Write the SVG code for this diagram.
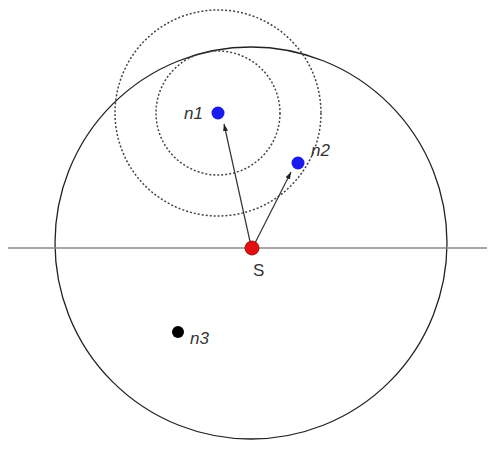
<svg xmlns="http://www.w3.org/2000/svg" width="490" height="455" viewBox="0 0 490 455">
<defs>
<style>
.lbl{font-family:"Liberation Sans",Arial,sans-serif;font-size:17px;fill:#333;font-style:italic}
.dash{fill:none;stroke:#444;stroke-width:1.5;stroke-dasharray:2 2}
.edge{stroke:#333;stroke-width:1.2;fill:none;marker-end:url(#ah)}
</style>
<marker id="ah" viewBox="0 0 10 10" refX="10" refY="5" markerWidth="6" markerHeight="6" orient="auto">
<path d="M0,1.5 L10,5 L0,8.5 Z" fill="#222"/>
</marker>
</defs>
<rect width="490" height="455" fill="#fff"/>
<g id="range">
<circle cx="251" cy="243" r="196" fill="none" stroke="#222" stroke-width="1.3"/>
<line x1="8" y1="248" x2="487" y2="248" stroke="#888" stroke-width="1.5"/>
</g>
<g id="rings">
<circle class="dash" cx="218" cy="113" r="62"/>
<circle class="dash" cx="218" cy="113" r="103"/>
</g>
<g id="connectors">
<line class="edge" x1="251" y1="246" x2="224" y2="124"/>
<line class="edge" x1="254" y1="245" x2="291" y2="172"/>
</g>
<g id="n1"><circle cx="218" cy="113" r="6.5" fill="#1a1aee"/><text class="lbl" x="184" y="119">n1</text></g>
<g id="n2"><circle cx="298" cy="163" r="6.5" fill="#1a1aee"/><text class="lbl" x="311" y="156">n2</text></g>
<g id="S"><circle cx="252" cy="248" r="7" fill="#e01010" stroke="#900" stroke-width="0.8"/><text x="253" y="276" font-family="Liberation Sans,Arial,sans-serif" font-size="17" fill="#333">S</text></g>
<g id="n3"><circle cx="178" cy="332" r="6" fill="#000"/><text class="lbl" x="190" y="344">n3</text></g>
</svg>
